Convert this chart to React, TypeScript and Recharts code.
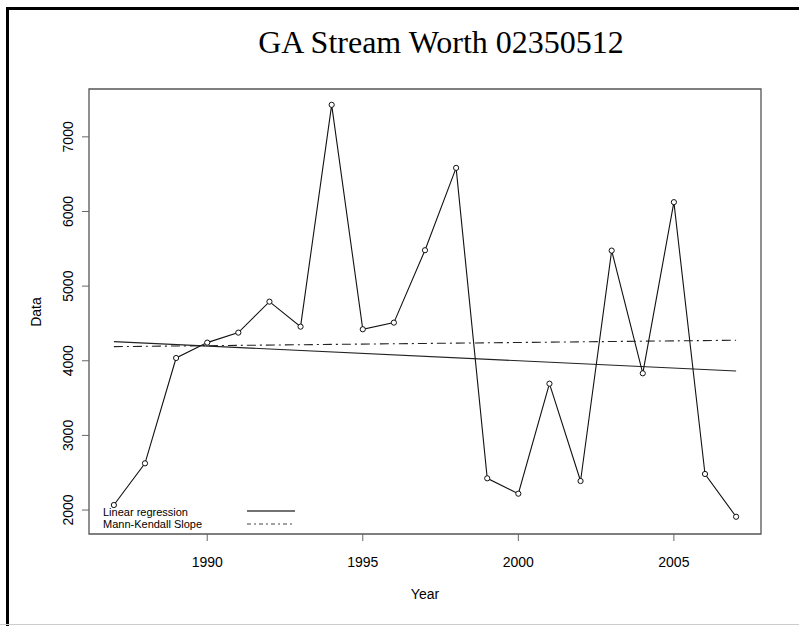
import React from "react";
import {
  LineChart,
  Line,
  XAxis,
  YAxis,
  ReferenceArea,
} from "recharts";

// annual values
const years = [
  1987, 1988, 1989, 1990, 1991, 1992, 1993, 1994, 1995, 1996, 1997,
  1998, 1999, 2000, 2001, 2002, 2003, 2004, 2005, 2006, 2007,
];
const flows = [
  2067, 2626, 4037, 4243, 4377, 4792, 4457, 7429, 4422, 4511, 5481,
  6584, 2425, 2219, 3693, 2389, 5476, 3832, 6125, 2483, 1910,
];

// trend lines, start and end of the record
const trendYears = [1987, 2007];
const linearVals = [4256, 3863];
const kendallVals = [4189, 4275];

const xTicks = [1990, 1995, 2000, 2005];
const yTicks = [2000, 3000, 4000, 5000, 6000, 7000];
const xDomain = [1986.2, 2007.8];
const yDomain = [1679, 7641];

const series = years.map((year, i) => ({ year, value: flows[i] }));
const linearData = trendYears.map((year, i) => ({ year, value: linearVals[i] }));
const kendallData = trendYears.map((year, i) => ({ year, value: kendallVals[i] }));

const sans = "'Liberation Sans', Arial, sans-serif";

const XTick = ({ x, y, payload }: any) => (
  <text x={x} y={y + 24} textAnchor="middle" fontFamily={sans} fontSize={14} fill="#000">
    {payload.value}
  </text>
);

const YTick = ({ x, y, payload }: any) => (
  <text
    x={x - 7}
    y={y}
    transform={`rotate(-90, ${x - 7}, ${y})`}
    textAnchor="middle"
    fontFamily={sans}
    fontSize={14}
    fill="#000"
  >
    {payload.value}
  </text>
);

export default function App() {
  return (
    <div
      style={{
        position: "absolute",
        left: 0,
        top: 0,
        width: 799,
        height: 626,
        background: "#fff",
        overflow: "hidden",
      }}
    >
      {/* page frame: left and top rules, faint line at the bottom */}
      <div style={{ position: "absolute", left: 6, top: 7, width: 3, height: 619, background: "#000" }} />
      <div style={{ position: "absolute", left: 6, top: 7, width: 793, height: 3, background: "#000" }} />
      <div style={{ position: "absolute", left: 0, top: 624, width: 799, height: 1, background: "#ccc" }} />

      <div style={{ position: "absolute", left: 0, top: 0 }}>
        <LineChart
          width={799}
          height={626}
          margin={{ top: 89, right: 38, bottom: 0, left: 0 }}
        >
          <XAxis
            dataKey="year"
            type="number"
            domain={xDomain}
            ticks={xTicks}
            allowDataOverflow
            height={92}
            axisLine={false}
            tickSize={7}
            tickLine={{ stroke: "#666" }}
            tick={<XTick />}
          />
          <YAxis
            type="number"
            domain={yDomain}
            ticks={yTicks}
            allowDataOverflow
            width={89}
            axisLine={false}
            tickSize={7}
            tickLine={{ stroke: "#666" }}
            tick={<YTick />}
          />
          <ReferenceArea
            x1={xDomain[0]}
            x2={xDomain[1]}
            y1={yDomain[0]}
            y2={yDomain[1]}
            fill="none"
            fillOpacity={0}
            stroke="#555"
            strokeWidth={1.3}
            ifOverflow="visible"
          />
          <Line
            data={linearData}
            dataKey="value"
            stroke="#222"
            strokeWidth={1.1}
            dot={false}
            isAnimationActive={false}
          />
          <Line
            data={kendallData}
            dataKey="value"
            stroke="#222"
            strokeWidth={1.1}
            strokeDasharray="9 4 2 4"
            dot={false}
            isAnimationActive={false}
          />
          <Line
            data={series}
            dataKey="value"
            stroke="#111"
            strokeWidth={1.1}
            dot={{ r: 2.6, stroke: "#111", strokeWidth: 1, fill: "#fff" }}
            isAnimationActive={false}
          />
        </LineChart>
      </div>

      {/* titles and legend */}
      <svg
        width={799}
        height={626}
        style={{ position: "absolute", left: 0, top: 0, pointerEvents: "none" }}
      >
        <text
          x={441}
          y={53}
          textAnchor="middle"
          fontFamily="'Liberation Serif', 'Times New Roman', serif"
          fontSize={32}
          fill="#000"
        >
          GA Stream Worth 02350512
        </text>
        <text x={425} y={599} textAnchor="middle" fontFamily={sans} fontSize={14} fill="#000">
          Year
        </text>
        <text
          x={41}
          y={312}
          transform="rotate(-90, 41, 312)"
          textAnchor="middle"
          fontFamily={sans}
          fontSize={14}
          fill="#000"
        >
          Data
        </text>

        <text x={103} y={516} fontFamily={sans} fontSize={11} fill="#000">
          Linear regression
        </text>
        <text x={103} y={528} fontFamily={sans} fontSize={11} fill="#000">
          Mann-Kendall Slope
        </text>
        <line x1={247} y1={511} x2={295} y2={511} stroke="#444" strokeWidth={1.3} />
        <line
          x1={247}
          y1={524}
          x2={294}
          y2={524}
          stroke="#444"
          strokeWidth={1}
          strokeDasharray="4 3 2 3"
        />
      </svg>
    </div>
  );
}
